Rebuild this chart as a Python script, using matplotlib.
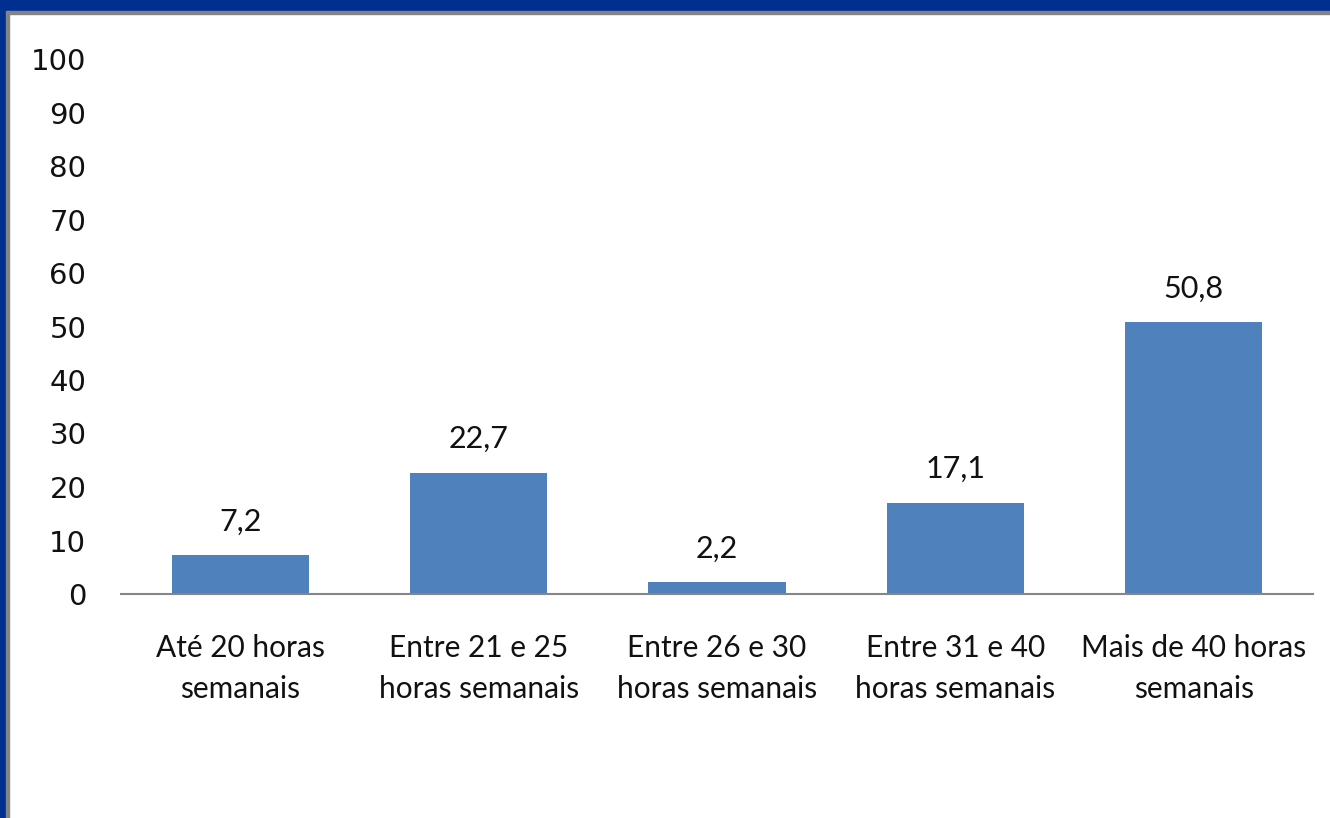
import matplotlib
matplotlib.use("Agg")
import matplotlib.pyplot as plt
from matplotlib.patches import Rectangle

categories = ["Até 20 horas\nsemanais", "Entre 21 e 25\nhoras semanais", "Entre 26 e 30\nhoras semanais",
              "Entre 31 e 40\nhoras semanais", "Mais de 40 horas\nsemanais"]
values = [7.2, 22.7, 2.2, 17.1, 50.8]
value_labels = ["7,2", "22,7", "2,2", "17,1", "50,8"]
yticks = [0, 10, 20, 30, 40, 50, 60, 70, 80, 90, 100]

W, H = 1330, 818
fig = plt.figure(figsize=(W / 100, H / 100), dpi=100)
fig.patch.set_facecolor("white")

# frame decorations
blue = "#00308F"
grey = "#848484"
fig.patches.append(Rectangle((0, 1 - 11 / H), 1, 11 / H, transform=fig.transFigure, color=blue, zorder=0))
fig.patches.append(Rectangle((0, 1 - 13.5 / H), 1, 2.5 / H, transform=fig.transFigure, color=grey, zorder=0))
fig.patches.append(Rectangle((0, 0), 6 / W, 1, transform=fig.transFigure, color=blue, zorder=0))
fig.patches.append(Rectangle((6 / W, 0), 3 / W, 1 - 11 / H, transform=fig.transFigure, color=grey, zorder=0))

left, right = 121 / W, 1313 / W
bottom = (H - 594) / H
top = (H - 59) / H
ax = fig.add_axes([left, bottom, right - left, top - bottom])

x = range(len(categories))
ax.bar(x, values, width=0.575, color="#4F81BD", zorder=2)
ax.set_xlim(-0.5, len(categories) - 0.5)
ax.set_ylim(0, 100)

for xi, v, lab in zip(x, values, value_labels):
    ax.annotate(lab, (xi, v), xytext=(0, 14), textcoords="offset points", ha="center", va="bottom",
                fontsize=22, family="Lato", color="#111111")

ax.set_yticks(yticks)
ax.set_yticklabels([str(t) for t in yticks], fontsize=21, family="DejaVu Sans", color="#111111")
ax.set_xticks(list(x))
ax.set_xticklabels(categories, fontsize=21.5, family="Lato", color="#111111", linespacing=1.55)
ax.tick_params(axis="y", length=0, pad=25)
ax.tick_params(axis="x", length=0, pad=29)

for s in ["top", "right", "left"]:
    ax.spines[s].set_visible(False)
ax.spines["bottom"].set_color("#868686")
ax.spines["bottom"].set_linewidth(1.5)
ax.patch.set_alpha(0)

fig.savefig("out.png", dpi=100)
